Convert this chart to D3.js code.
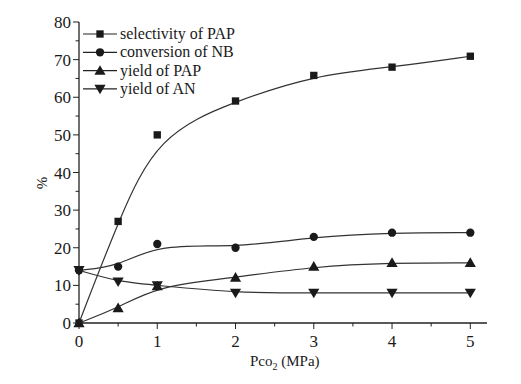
<!DOCTYPE html>
<html>
<head>
<meta charset="utf-8">
<script src="https://cdn.jsdelivr.net/npm/d3@7"></script>
<style>
  body { margin: 0; background: #fff; }
  svg text { font-family: "Liberation Serif", "DejaVu Serif", serif; fill: #1a1a1a; }
</style>
</head>
<body>
<div id="chart"></div>
<script>
// pressure of CO2 (MPa)
const pressure = [0, 0.5, 1, 2, 3, 4, 5];
const selectivityPAP = [0, 27, 50, 59, 65.8, 68, 70.9];
const conversionNB = [14, 15, 21, 20, 22.9, 24, 24];
const yieldPAP = [0, 4, 9.8, 12.1, 15, 16, 16];
const yieldAN = [14, 11, 10, 8, 8, 8, 8];
const seriesNames = ["selectivity of PAP", "conversion of NB", "yield of PAP", "yield of AN"];
const xTicks = [0, 1, 2, 3, 4, 5];
const yTicks = [0, 10, 20, 30, 40, 50, 60, 70, 80];

const svgWidth = 521, svgHeight = 384;
const marginLeft = 79, plotTop = 22, plotBottom = 323;

let svg = d3.select("#chart")
    .append("svg")
    .attr("width", svgWidth)
    .attr("height", svgHeight);

let x = d3.scaleLinear().domain([0, 5]).range([marginLeft, 470.3]);
let y = d3.scaleLinear().domain([0, 80]).range([plotBottom, plotTop]);

// axes
function draw_axes() {
    let xAxis = svg.append("g").attr("transform", `translate(0,${plotBottom})`);
    xAxis.append("line")
        .attr("x1", marginLeft).attr("x2", 487)
        .attr("stroke", "#222").attr("stroke-width", 1.3);
    xAxis.selectAll(".minor")
        .data(d3.range(0.5, 5, 1))
        .enter().append("line")
        .attr("x1", d => x(d)).attr("x2", d => x(d))
        .attr("y1", 0).attr("y2", 3.5)
        .attr("stroke", "#222");
    xAxis.selectAll(".major")
        .data(xTicks)
        .enter().append("line")
        .attr("x1", d => x(d)).attr("x2", d => x(d))
        .attr("y1", 0).attr("y2", 6)
        .attr("stroke", "#222");
    xAxis.selectAll("text")
        .data(xTicks)
        .enter().append("text")
        .attr("x", d => x(d))
        .attr("y", 24)
        .attr("text-anchor", "middle")
        .style("font-size", "17px")
        .text(d => d);

    let yAxis = svg.append("g").attr("transform", `translate(${marginLeft},0)`);
    yAxis.append("line")
        .attr("y1", plotTop).attr("y2", plotBottom + 0.6)
        .attr("stroke", "#222").attr("stroke-width", 1.3);
    yAxis.selectAll(".minor")
        .data(d3.range(5, 80, 10))
        .enter().append("line")
        .attr("y1", d => y(d)).attr("y2", d => y(d))
        .attr("x1", 0).attr("x2", -3.5)
        .attr("stroke", "#222");
    yAxis.selectAll(".major")
        .data(yTicks)
        .enter().append("line")
        .attr("y1", d => y(d)).attr("y2", d => y(d))
        .attr("x1", 0).attr("x2", -6)
        .attr("stroke", "#222");
    yAxis.selectAll("text")
        .data(yTicks)
        .enter().append("text")
        .attr("x", -8)
        .attr("y", d => y(d) + 6)
        .attr("text-anchor", "end")
        .style("font-size", "17px")
        .text(d => d);

    // axis titles
    let xt = svg.append("text")
        .attr("x", 250).attr("y", 366)
        .style("font-size", "15px");
    xt.append("tspan").text("Pco");
    xt.append("tspan").attr("dy", 4).style("font-size", "10px").text("2");
    xt.append("tspan").attr("dy", -4).text(" (MPa)");

    svg.append("text")
        .attr("transform", "translate(47,183) rotate(-90)")
        .attr("text-anchor", "middle")
        .style("font-size", "15px")
        .text("%");
}

const symbols = [
    d3.symbol().type(d3.symbolSquare).size(54),
    d3.symbol().type(d3.symbolCircle).size(54),
    d3.symbol().type(d3.symbolTriangle).size(54),
    d3.symbol().type(d3.symbolTriangle).size(54)
];
const rotations = [0, 0, 0, 180];

function add_series(values, idx) {
    let line = d3.line()
        .x((d, i) => x(pressure[i]))
        .y(d => y(d))
        .curve(d3.curveBasis);
    svg.append("path")
        .datum(values)
        .attr("d", line)
        .attr("fill", "none")
        .attr("stroke", "#333")
        .attr("stroke-width", 1.2);
    svg.append("g")
        .selectAll("path")
        .data(values)
        .enter()
        .append("path")
        .attr("d", symbols[idx])
        .attr("transform", (d, i) => `translate(${x(pressure[i])},${y(d) + (idx >= 2 ? (idx == 2 ? 1 : -1) : 0)}) rotate(${rotations[idx]})`)
        .attr("fill", "#1a1a1a");
}

function add_legend() {
    let g = svg.append("g");
    seriesNames.forEach((name, i) => {
        let yy = 34 + i * 18.3;
        g.append("line")
            .attr("x1", 83).attr("x2", 117)
            .attr("y1", yy).attr("y2", yy)
            .attr("stroke", "#222").attr("stroke-width", 1.2);
        g.append("path")
            .attr("d", symbols[i])
            .attr("transform", `translate(100,${yy + (i >= 2 ? (i == 2 ? 1 : -1) : 0)}) rotate(${rotations[i]})`)
            .attr("fill", "#1a1a1a");
        g.append("text")
            .attr("x", 120).attr("y", yy + 5)
            .style("font-size", "16px")
            .text(name);
    });
}

draw_axes();
add_series(selectivityPAP, 0);
add_series(conversionNB, 1);
add_series(yieldPAP, 2);
add_series(yieldAN, 3);
add_legend();
</script>
</body>
</html>
